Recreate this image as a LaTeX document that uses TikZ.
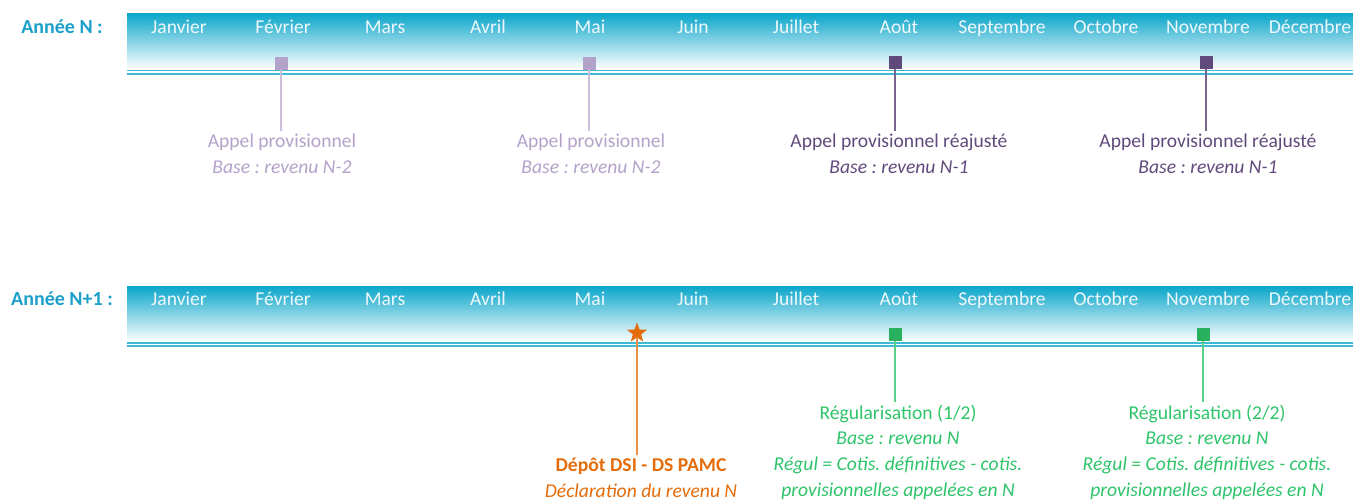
\documentclass[tikz,border=0pt]{standalone}
\usepackage{fontspec}
\setmainfont{Carlito}
\usetikzlibrary{shapes.geometric}
\frenchspacing
\definecolor{barTeal}{HTML}{0AA6CA}
\definecolor{lineTeal}{HTML}{3DB9D6}
\definecolor{labelTeal}{HTML}{1AA0C9}
\definecolor{lightPurple}{HTML}{B3A2C9}
\definecolor{darkPurple}{HTML}{604A7B}
\definecolor{dsiOrange}{HTML}{E46C0A}
\definecolor{regGreen}{HTML}{2EC46A}
\definecolor{monthWhite}{HTML}{EEF8FB}
\tikzset{
  month/.style={text=monthWhite, font=\fontsize{19.6}{22}\selectfont, inner sep=0pt, anchor=base},
  yearlabel/.style={text=labelTeal, font=\bfseries\fontsize{20}{22}\selectfont, inner sep=0pt, anchor=base},
  sqmark/.style={rectangle, minimum size=13pt, inner sep=0pt},
  lab/.style={align=center, inner sep=3pt, font=\fontsize{19.6}{25.7}\selectfont},
  conn/.style={line width=1.6pt},
  tealline/.style={lineTeal, line width=1.4pt}
}
\begin{document}
\begin{tikzpicture}[x=1pt,y=-1pt]
\useasboundingbox (0,0) rectangle (1353,499);
% ---------- Year N bar ----------
\shade[top color=barTeal, bottom color=white, middle color=barTeal!50!white] (127,13) rectangle (1353,69);
\draw[tealline] (127,70.5) -- (1353,70.5);
\draw[tealline] (127,73.8) -- (1353,73.8);
\node[yearlabel] (yN) at (62,33.5) {Année N :};
% ---------- Year N+1 bar ----------
\shade[top color=barTeal, bottom color=white, middle color=barTeal!50!white] (127,286) rectangle (1353,342);
\draw[tealline] (127,342.8) -- (1353,342.8);
\draw[tealline] (127,346.1) -- (1353,346.1);
\node[yearlabel] (yN1) at (62,305.5) {Année N+1 :};
% months
\foreach \m/\x [count=\i] in {Janvier/179,Février/283,Mars/385,Avril/488,Mai/590,Juin/693,Juillet/796,Août/899,Septembre/1002,Octobre/1106,Novembre/1208,Décembre/1310}{
  \node[month] (ma\i) at (\x,33.5) {\m};
  \node[month] (mb\i) at (\x,305.5) {\m};
}
% ---------- Year N markers ----------
\node[sqmark, fill=lightPurple] (s1) at (281,63.5) {};
\node[sqmark, fill=lightPurple] (s2) at (589,63.5) {};
\node[sqmark, fill=darkPurple] (s3) at (895,62.5) {};
\node[sqmark, fill=darkPurple] (s4) at (1206,62.5) {};
\node[lab, text=lightPurple] (l1) at (282,153.5) {Appel provisionnel\\\textit{Base : revenu N-2}};
\node[lab, text=lightPurple] (l2) at (591,153.5) {Appel provisionnel\\\textit{Base : revenu N-2}};
\node[lab, text=darkPurple] (l3) at (899,153.5) {Appel provisionnel réajusté\\\textit{Base : revenu N-1}};
\node[lab, text=darkPurple] (l4) at (1208,153.5) {Appel provisionnel réajusté\\\textit{Base : revenu N-1}};
\draw[conn, lightPurple!70!white] (s1.south) -- (s1.south |- l1.north);
\draw[conn, lightPurple!70!white] (s2.south) -- (s2.south |- l2.north);
\draw[conn, darkPurple!85!white] (s3.south) -- (s3.south |- l3.north);
\draw[conn, darkPurple!85!white] (s4.south) -- (s4.south |- l4.north);
% ---------- Year N+1 markers ----------
\node[star, star points=5, star point ratio=2.4, fill=dsiOrange, inner sep=0pt, minimum size=21pt] (st) at (637,333) {};
\node[sqmark, fill=regGreen!90!black] (g1) at (895,334.5) {};
\node[sqmark, fill=regGreen!90!black] (g2) at (1203,334.5) {};
\node[lab, text=dsiOrange] (d1) at (641,478) {\textbf{Dépôt DSI - DS PAMC}\\\textit{Déclaration du revenu N}};
\node[lab, text=regGreen] (r1) at (898,452) {Régularisation (1/2)\\\textit{Base : revenu N}\\\textit{Régul = Cotis. définitives - cotis.}\\\textit{provisionnelles appelées en N}};
\node[lab, text=regGreen] (r2) at (1207,452) {Régularisation (2/2)\\\textit{Base : revenu N}\\\textit{Régul = Cotis. définitives - cotis.}\\\textit{provisionnelles appelées en N}};
\draw[conn, dsiOrange!75!white] (st.south) -- (st.south |- d1.north);
\draw[conn, regGreen!80!white] (g1.south) -- (g1.south |- r1.north);
\draw[conn, regGreen!80!white] (g2.south) -- (g2.south |- r2.north);
\end{tikzpicture}
\end{document}
